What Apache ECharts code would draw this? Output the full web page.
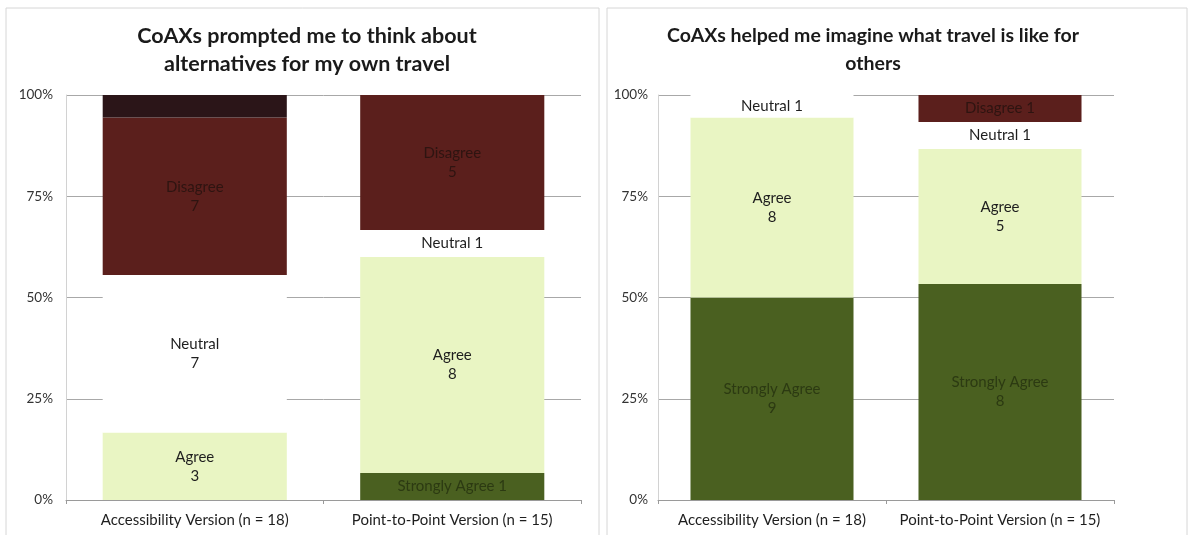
<!DOCTYPE html>
<html>
<head>
<meta charset="utf-8">
<script src="https://cdn.jsdelivr.net/npm/echarts@6/dist/echarts.min.js"></script>
<style>
html,body{margin:0;padding:0;background:#fff;}
#c{width:1190px;height:535px;}
</style>
</head>
<body>
<div id="c"></div>
<script>
// ---- data ----
const categories = ['Accessibility Version (n = 18)', 'Point-to-Point Version (n = 15)'];
const responseLevels = ['Strongly Agree', 'Agree', 'Neutral', 'Disagree', 'Strongly Disagree'];
const yTickLabels = ['0%', '25%', '50%', '75%', '100%'];

const title1 = 'CoAXs prompted me to think about\nalternatives for my own travel';
const stronglyAgree1 = [0, 1];
const agree1 = [3, 8];
const neutral1 = [7, 1];
const disagree1 = [7, 5];
const stronglyDisagree1 = [1, 0];

const title2 = 'CoAXs helped me imagine what travel is like for\nothers';
const stronglyAgree2 = [9, 8];
const agree2 = [8, 5];
const neutral2 = [1, 1];
const disagree2 = [0, 1];
const stronglyDisagree2 = [0, 0];

// ---- styles ----
const levelColors = {
  'Strongly Agree': '#4a6020',
  'Agree': '#e9f5c3',
  'Neutral': '#ffffff',
  'Disagree': '#5b1f1c',
  'Strongly Disagree': '#2b1518'
};
const labelColors = {
  'Strongly Agree': '#2c3a12',
  'Agree': '#1e1e1e',
  'Neutral': '#1e1e1e',
  'Disagree': '#2e1411',
  'Strongly Disagree': 'rgba(0,0,0,0)'
};
const FONT = 'Lato, "Noto Sans", sans-serif';

function buildSeries(counts, idx) {
  const totals = categories.map((_, i) => counts.reduce((s, arr) => s + arr[i], 0));
  return responseLevels.map((name, k) => {
    const arr = counts[k];
    return {
      name: name + idx,
      type: 'bar',
      stack: 'st' + idx,
      xAxisIndex: idx,
      yAxisIndex: idx,
      barWidth: '71.5%',
      itemStyle: { color: levelColors[name] },
      label: {
        show: name !== 'Strongly Disagree',
        position: 'inside',
        color: labelColors[name],
        fontFamily: FONT,
        fontSize: 15,
        lineHeight: 19,
        formatter: function (p) {
          const c = arr[p.dataIndex];
          if (!c) return '';
          const pct = c / totals[p.dataIndex] * 100;
          return pct > 10 ? name + '\n' + c : name + ' ' + c;
        }
      },
      emphasis: { disabled: true },
      data: arr.map((c, i) => c / totals[i] * 100)
    };
  });
}

const counts1 = [stronglyAgree1, agree1, neutral1, disagree1, stronglyDisagree1];
const counts2 = [stronglyAgree2, agree2, neutral2, disagree2, stronglyDisagree2];

function xAx(gi) {
  return {
    type: 'category', gridIndex: gi, data: categories,
    axisLine: { lineStyle: { color: '#9a9a9a' } },
    axisTick: { show: true, length: 4, lineStyle: { color: '#9a9a9a' } },
    axisLabel: { color: '#1e1e1e', fontFamily: FONT, fontSize: 15, margin: 13, interval: 0 }
  };
}
function yAx(gi, margin) {
  return {
    type: 'value', gridIndex: gi, min: 0, max: 100, interval: 25,
    axisLine: { show: true, lineStyle: { color: '#d2d2d2' } },
    axisTick: { show: false },
    splitLine: { lineStyle: { color: '#a8a8a8' } },
    axisLabel: {
      color: '#333', fontFamily: FONT, fontSize: 13.5, margin: margin,
      formatter: v => yTickLabels[v / 25]
    }
  };
}

const chart = echarts.init(document.getElementById('c'));
chart.setOption({
  backgroundColor: '#ffffff',
  animation: false,
  title: [
    { text: title1, left: 302, top: 17, textAlign: 'center',
      textStyle: { fontFamily: FONT, fontSize: 21.5, fontWeight: 'bold', color: '#1a1a1a', lineHeight: 28 } },
    { text: title2, left: 868, top: 17, textAlign: 'center',
      textStyle: { fontFamily: FONT, fontSize: 19.5, fontWeight: 'bold', color: '#1a1a1a', lineHeight: 28 } }
  ],
  graphic: [
    { type: 'rect', shape: { x: 6, y: 8, width: 593, height: 540 }, style: { fill: 'none', stroke: '#d6d6d6', lineWidth: 1 }, z: -1 },
    { type: 'rect', shape: { x: 607, y: 8, width: 580, height: 540 }, style: { fill: 'none', stroke: '#d6d6d6', lineWidth: 1 }, z: -1 }
  ],
  grid: [
    { left: 66, right: 1190 - 581, top: 95, bottom: 535 - 500 },
    { left: 658, right: 1190 - 1114, top: 95, bottom: 535 - 500 }
  ],
  xAxis: [xAx(0), xAx(1)],
  yAxis: [yAx(0, 13), yAx(1, 10)],
  series: buildSeries(counts1, 0).concat(buildSeries(counts2, 1))
});
</script>
</body>
</html>
